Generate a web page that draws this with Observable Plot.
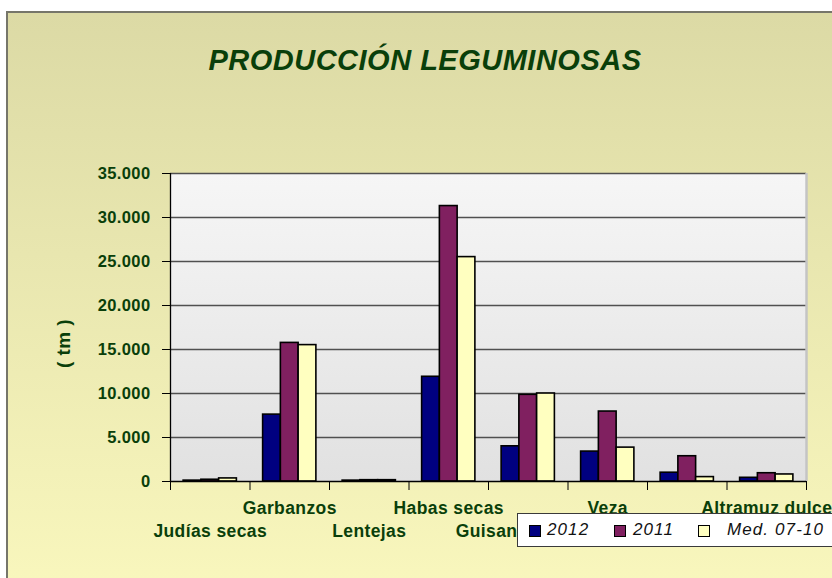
<!DOCTYPE html>
<html>
<head>
<meta charset="utf-8">
<script src="https://cdn.jsdelivr.net/npm/d3@7"></script>
<script src="https://cdn.jsdelivr.net/npm/@observablehq/plot@0.6"></script>
<style>
  html, body { margin: 0; padding: 0; background: #ffffff; }
  #chart { position: relative; width: 832px; height: 578px; overflow: hidden; font-family: "Liberation Sans", Arial, sans-serif; }
  #bg { position: absolute; left: 6px; top: 11px; width: 840px; height: 580px;
        background: linear-gradient(#dcdaa5, #f9f7bd);
        border-left: 2px solid #76766a; border-top: 2px solid #76766a; }
  #title { position: absolute; left: 0; top: 44px; width: 850px; text-align: center;
           font-size: 29px; font-weight: bold; font-style: italic; color: #0a3f0a; letter-spacing: 0.5px; }
  #plot { position: absolute; left: 0; top: 0; }
  #legend { position: absolute; left: 517px; top: 513px; width: 340px; height: 34px; background: #ffffff;
            border: 1px solid #3a3a3a; box-sizing: border-box; font-style: italic; font-size: 17px; color: #111; letter-spacing: 1.1px; }
  .sw { position: absolute; top: 11px; width: 10px; height: 10px; border: 1.5px solid #000; }
  .tx { position: absolute; top: 6px; white-space: nowrap; }
</style>
</head>
<body>
<div id="chart">
  <div id="bg"></div>
  <div id="title">PRODUCCIÓN LEGUMINOSAS</div>
  <div id="plot"></div>
  <div id="legend"></div>
</div>
<script>
// ---- data ----
const categories = ["Judías secas", "Garbanzos", "Lentejas", "Habas secas", "Guisantes secos", "Veza", "Yeros", "Altramuz dulce"];
const series = ["2012", "2011", "Med. 07-10"];
const v2012 = [100, 7600, 100, 11900, 4000, 3400, 1000, 420];
const v2011 = [200, 15750, 150, 31300, 9850, 7950, 2870, 940];
const vMed  = [350, 15500, 150, 25500, 10000, 3850, 500, 800];
const yTicks = [0, 5000, 10000, 15000, 20000, 25000, 30000, 35000];
const colors = ["#000080", "#802060", "#ffffc0"];

const values = [v2012, v2011, vMed];
const rows = [];
categories.forEach((c, i) => series.forEach((s, j) => rows.push({cat: c, ci: i, series: s, si: j, value: values[j][i]})));
const catIdx = categories.map((c, i) => ({cat: c, i}));

const groupPad = 0.165;
const barW = (1 - 2 * groupPad) / series.length;
const fmt = d => d3.format(",")(d).replace(/,/g, ".");
const green = "#0a3f0a";

const plot = Plot.plot({
  width: 832,
  height: 578,
  marginLeft: 170,
  marginRight: 26,
  marginTop: 173,
  marginBottom: 97,
  style: {background: "transparent", fontFamily: "'Liberation Sans', Arial, sans-serif", overflow: "visible"},
  x: {type: "linear", domain: [0, categories.length], axis: null, label: null},
  y: {domain: [0, 35000], axis: null, label: null},
  color: {domain: series, range: colors},
  marks: [
    Plot.frame({fill: "url(#plotbg)", stroke: "none"}),
    Plot.ruleY(yTicks.filter(d => d > 0), {stroke: "#505050", strokeWidth: 1.3}),
    Plot.ruleX([categories.length], {stroke: "#c4c4c4", strokeWidth: 2.5}),
    Plot.rectY(rows, {
      x1: d => d.ci + groupPad + d.si * barW,
      x2: d => d.ci + groupPad + (d.si + 1) * barW,
      y1: 0, y2: "value",
      fill: "series", stroke: "#000", strokeWidth: 1.6
    }),
    Plot.ruleY([0], {stroke: "#000", strokeWidth: 1.3}),
    Plot.ruleX([0], {stroke: "#000", strokeWidth: 1.3}),
    Plot.axisX({ticks: d3.range(categories.length + 1), tickSize: 9, tickFormat: () => "", stroke: "#000", label: null}),
    Plot.axisY({ticks: yTicks, tickSize: 8, tickFormat: () => "", stroke: "#000", label: null}),
    Plot.text(yTicks, {x: 0, y: d => d, text: fmt, dx: -20, textAnchor: "end", fill: green, fontWeight: "bold", fontSize: 16.5}),
    Plot.text(catIdx.filter(d => d.i % 2 === 1), {x: d => d.i + 0.5, y: 0, text: "cat", dy: 27, fill: green, fontWeight: "bold", fontSize: 17.5}),
    Plot.text(catIdx.filter(d => d.i % 2 === 0), {x: d => d.i + 0.5, y: 0, text: "cat", dy: 50, fill: green, fontWeight: "bold", fontSize: 17.5}),
    Plot.text(["( tm )"], {frameAnchor: "left", textAnchor: "middle", dx: -107, dy: 16, rotate: -90, fill: green, fontWeight: "bold", fontSize: 19})
  ]
});

const svg = d3.select(plot);
svg.selectAll("text").style("letter-spacing", "0.4px");
const defs = svg.insert("defs", ":first-child");
const lg = defs.append("linearGradient").attr("id", "plotbg").attr("x1", 0).attr("y1", 0).attr("x2", 0).attr("y2", 1);
lg.append("stop").attr("offset", "0%").attr("stop-color", "#f6f6f6");
lg.append("stop").attr("offset", "100%").attr("stop-color", "#e1e1e1");
document.getElementById("plot").appendChild(plot);

// legend
const legend = document.getElementById("legend");
const swLefts = [11, 96, 180];
const txLefts = [29, 115, 209];
series.forEach((s, j) => {
  const sw = document.createElement("div");
  sw.className = "sw";
  sw.style.left = swLefts[j] + "px";
  sw.style.background = colors[j];
  const tx = document.createElement("div");
  tx.className = "tx";
  tx.style.left = txLefts[j] + "px";
  tx.textContent = s;
  legend.appendChild(sw); legend.appendChild(tx);
});
</script>
</body>
</html>
